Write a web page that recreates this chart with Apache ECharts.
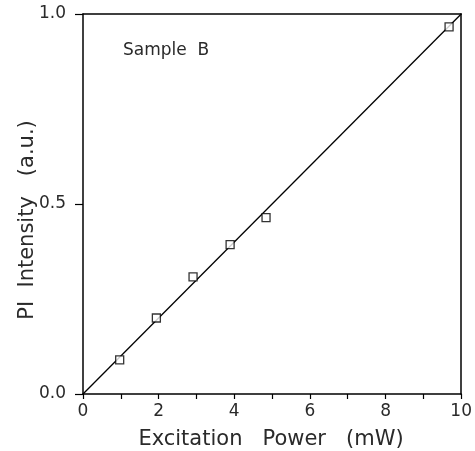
<!DOCTYPE html>
<html><head><meta charset="utf-8">
<script src="https://cdn.jsdelivr.net/npm/echarts@6/dist/echarts.min.js"></script>
<style>html,body{margin:0;padding:0;background:#fff}#c{width:475px;height:451px}</style>
</head><body><div id="c"></div>
<script>
const powerMW = [0.97, 1.94, 2.91, 3.89, 4.84, 9.68];
const intensity = [0.09, 0.20, 0.308, 0.393, 0.464, 0.966];
const fitX = [0, 10];
const fitY = [0, 1.0];
const xTicks = [0, 2, 4, 6, 8, 10];
const yTicks = [0.0, 0.5, 1.0];

const font = 'DejaVu Sans';
const txt = '#2a2a2a';
const chart = echarts.init(document.getElementById('c'));
chart.setOption({
  backgroundColor: '#fff',
  animation: false,
  grid: {left: 83, right: 10, top: 14, bottom: 57},
  graphic: [{
    type: 'text', left: 123, top: 42,
    style: {text: 'Sample  B', fontFamily: font, fontSize: 17, fill: txt}
  }, {
    type: 'text', x: 271, y: 440,
    style: {text: 'Excitation   Power   (mW)', fontFamily: font, fontSize: 21, fill: txt,
      textAlign: 'center', textVerticalAlign: 'middle'}
  }, {
    type: 'text', x: 28, y: 220, rotation: Math.PI / 2,
    style: {text: 'PI  Intensity   (a.u.)', fontFamily: font, fontSize: 21, fill: txt,
      textAlign: 'center', textVerticalAlign: 'middle'}
  }],
  xAxis: [{
    type: 'value', min: 0, max: 10, interval: 1,
    axisLine: {onZero: false, lineStyle: {color: '#000', width: 1.5}},
    axisTick: {length: 5, lineStyle: {color: '#000', width: 1.2}},
    axisLabel: {fontFamily: font, fontSize: 17, color: txt, margin: 9,
      formatter: v => xTicks.includes(v) ? String(v) : ''},
    splitLine: {show: false}
  }, {
    type: 'value', position: 'top', min: 0, max: 10,
    axisLine: {show: true, onZero: false, lineStyle: {color: '#000', width: 1.5}},
    axisTick: {show: false}, axisLabel: {show: false}, splitLine: {show: false}
  }],
  yAxis: [{
    type: 'value', min: 0, max: 1, interval: 0.5,
    axisLine: {show: true, onZero: false, lineStyle: {color: '#000', width: 1.5}},
    axisTick: {length: 8, lineStyle: {color: '#000', width: 1.2}},
    axisLabel: {fontFamily: font, fontSize: 17, color: txt, margin: 17,
      formatter: v => yTicks.includes(v) ? v.toFixed(1) : ''},
    splitLine: {show: false}
  }, {
    type: 'value', position: 'right', min: 0, max: 1,
    axisLine: {show: true, onZero: false, lineStyle: {color: '#000', width: 1.5}},
    axisTick: {show: false}, axisLabel: {show: false}, splitLine: {show: false}
  }],
  series: [{
    type: 'line', data: fitX.map((x, i) => [x, fitY[i]]),
    symbol: 'none', lineStyle: {color: '#000', width: 1.3}, silent: true
  }, {
    type: 'scatter', data: powerMW.map((x, i) => [x, intensity[i]]),
    symbol: 'rect', symbolSize: 8,
    itemStyle: {color: '#fff', borderColor: '#000', borderWidth: 1.3}, z: 5
  }]
});
</script></body></html>
